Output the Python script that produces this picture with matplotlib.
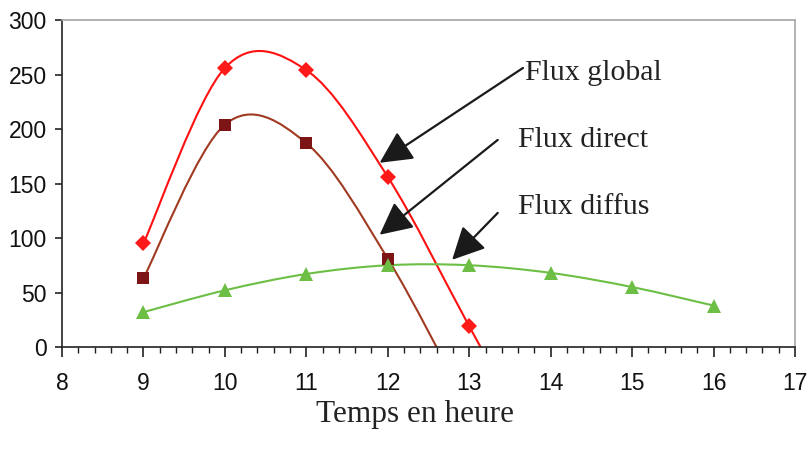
import matplotlib
matplotlib.use('Agg')
import matplotlib.pyplot as plt
from matplotlib.path import Path
from matplotlib.patches import PathPatch
from matplotlib.ticker import MultipleLocator

# Données (heures, W/m²)
heures = [9, 10, 11, 12, 13, 14, 15, 16]
flux_global = [95, 256, 254, 156, 19, -118]
flux_direct = [63, 204, 187, 81, -56, -186]
flux_diffus = [32, 52, 67, 75, 75, 68, 55, 38]

# points visibles (les valeurs négatives sont coupées par l'axe)
n_global = 5
n_direct = 4


def smooth_path(xs, ys):
    """Courbe lissée façon Excel (Bézier cubique, Catmull-Rom)."""
    pts = list(zip(xs, ys))
    verts = [pts[0]]
    codes = [Path.MOVETO]
    for i in range(len(pts) - 1):
        p0 = pts[i - 1] if i > 0 else pts[i]
        p1 = pts[i]
        p2 = pts[i + 1]
        p3 = pts[i + 2] if i + 2 < len(pts) else pts[i + 1]
        c1 = (p1[0] + (p2[0] - p0[0]) / 6, p1[1] + (p2[1] - p0[1]) / 6)
        c2 = (p2[0] - (p3[0] - p1[0]) / 6, p2[1] - (p3[1] - p1[1]) / 6)
        verts += [c1, c2, p2]
        codes += [Path.CURVE4] * 3
    return Path(verts, codes)


fig = plt.figure(figsize=(8.09, 4.61), dpi=100)
ax = fig.add_axes([62 / 809, 114 / 461, 733 / 809, 327 / 461])

series = [
    (flux_global, n_global, "#ff1010", "#ff1a1a", "D", 8),
    (flux_direct, n_direct, "#a03a20", "#7d1416", "s", 9),
    (flux_diffus, len(flux_diffus), "#6cbf44", "#6cbf44", "^", 10),
]
for vals, n, lc, mc, mk, ms in series:
    xs = heures[:len(vals)]
    ax.add_patch(PathPatch(smooth_path(xs, vals), facecolor="none",
                           edgecolor=lc, lw=1.5, zorder=2))
    ax.plot(heures[:n], vals[:n], linestyle="none", marker=mk, ms=ms,
            color=mc, markeredgewidth=0, zorder=3)

ax.set_xlim(8, 17)
ax.set_ylim(0, 300)
ax.xaxis.set_major_locator(MultipleLocator(1))
ax.xaxis.set_minor_locator(MultipleLocator(0.2))
ax.yaxis.set_major_locator(MultipleLocator(50))

for s in ["top", "right"]:
    ax.spines[s].set_color("#a6a6a6")
    ax.spines[s].set_linewidth(1.2)
for s in ["left", "bottom"]:
    ax.spines[s].set_color("#222222")
    ax.spines[s].set_linewidth(1.2)

ax.tick_params(axis="x", which="major", direction="out", length=7, width=1.2,
               color="#222222", pad=11, labelsize=16.5, labelcolor="#111111")
ax.tick_params(axis="x", which="minor", direction="out", length=4, width=1.0,
               color="#222222")
ax.tick_params(axis="y", which="major", direction="out", length=5, width=1.2,
               color="#222222", pad=6, labelsize=16.5, labelcolor="#111111")
for lab in ax.get_xticklabels() + ax.get_yticklabels():
    lab.set_family("Liberation Sans")

# Annotations
serif = "Liberation Serif"
ax.text(13.69, 251, "Flux global", fontsize=21.5, family=serif,
        va="center", ha="left", color="#222222")
ax.text(13.60, 190, "Flux direct", fontsize=21.5, family=serif,
        va="center", ha="left", color="#222222")
ax.text(13.60, 128, "Flux diffus", fontsize=21.5, family=serif,
        va="center", ha="left", color="#222222")

fleche = dict(arrowstyle="-|>,head_length=1.0,head_width=0.5",
              mutation_scale=20, color="#1a1a1a", lw=1.6,
              shrinkA=0, shrinkB=0)
ax.annotate("", xy=(11.90, 169), xytext=(13.66, 256), arrowprops=fleche)
ax.annotate("", xy=(11.90, 103), xytext=(13.35, 190), arrowprops=fleche)
ax.annotate("", xy=(12.79, 80), xytext=(13.35, 123), arrowprops=fleche)

fig.text(415 / 809, 1 - 414 / 461, "Temps en heure", fontsize=22.5,
         family=serif, ha="center", va="center", color="#222222")

fig.savefig("out.png", dpi=100)
